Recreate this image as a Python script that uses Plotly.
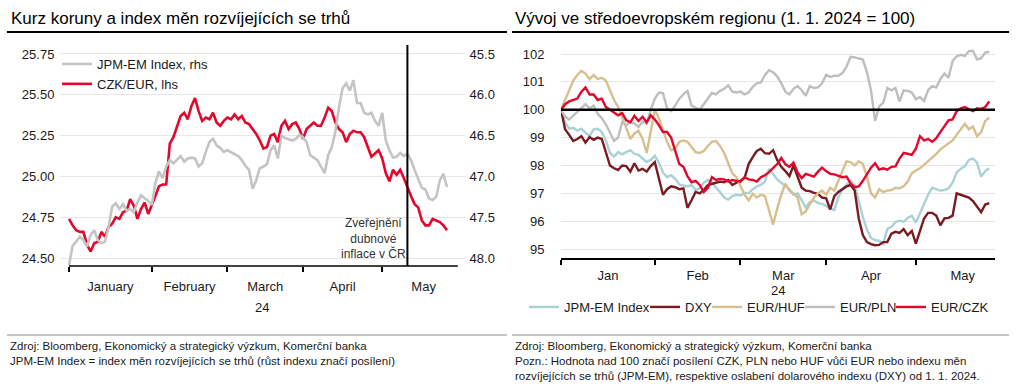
import pandas as pd
import plotly.graph_objects as go

FONT = "Liberation Sans, Arial, Helvetica, sans-serif"
W, H = 1024, 389


def px(x):
    return x / W


def py(y):
    return 1 - y / H


# ---------------- data ----------------
dates = pd.bdate_range("2024-01-01", "2024-05-27")  # business days

czk_eur = [
    24.74, 24.70, 24.67, 24.66, 24.66, 24.58, 24.54, 24.59, 24.60, 24.66,
    24.63, 24.69, 24.71, 24.75, 24.74, 24.78, 24.79, 24.86, 24.82, 24.74,
    24.80, 24.84, 24.77, 24.82, 24.88, 24.94, 24.95, 24.95, 25.20, 25.24,
    25.30, 25.37, 25.39, 25.35, 25.43, 25.48, 25.40, 25.34, 25.36, 25.35,
    25.39, 25.33, 25.31, 25.34, 25.36, 25.35, 25.38, 25.35, 25.37, 25.33,
    25.32, 25.29, 25.26, 25.22, 25.17, 25.18, 25.25, 25.26, 25.21, 25.31,
    25.34, 25.29, 25.32, 25.33, 25.29, 25.23, 25.29, 25.31, 25.33, 25.31,
    25.31, 25.36, 25.42, 25.40, 25.33, 25.29, 25.27, 25.21, 25.26, 25.28,
    25.27, 25.27, 25.24, 25.18, 25.12, 25.14, 25.16, 25.11, 25.02, 24.97,
    25.04, 25.01, 25.04, 24.99, 24.93, 24.88, 24.83, 24.81, 24.73, 24.70,
    24.70, 24.74, 24.73, 24.72, 24.70, 24.67,
]

jpm_em_rhs = [
    48.09, 47.85, 47.80, 47.74, 47.78, 47.86, 47.72, 47.66, 47.78, 47.82,
    47.80, 47.62, 47.37, 47.33, 47.40, 47.34, 47.42, 47.40, 47.44, 47.32,
    47.23, 47.26, 47.30, 47.35, 47.08, 46.94, 47.02, 46.88, 46.80, 46.84,
    46.80, 46.75, 46.82, 46.78, 46.77, 46.78, 46.88, 46.84, 46.70, 46.58,
    46.54, 46.62, 46.65, 46.70, 46.68, 46.70, 46.72, 46.75, 46.80, 46.87,
    46.92, 47.15, 47.05, 46.90, 46.88, 46.85, 46.68, 46.62, 46.78, 46.50,
    46.53, 46.55, 46.56, 46.54, 46.49, 46.52, 46.58, 46.74, 46.77, 46.80,
    46.88, 46.96, 46.74, 46.64, 46.45, 46.15, 45.92, 45.86, 45.95, 45.82,
    46.10, 46.10, 46.22, 46.24, 46.22, 46.32, 46.38, 46.22, 46.56, 46.68,
    46.77, 46.76, 46.71, 46.75, 46.72, 46.80, 46.92, 47.04, 47.14, 47.16,
    47.27, 47.29, 47.25, 47.05, 46.97, 47.13,
]

jpm_em_idx = [
    100.00, 99.55, 99.32, 99.35, 99.25, 99.32, 99.18, 99.05, 99.30, 99.32,
    99.20, 98.90, 98.45, 98.32, 98.48, 98.40, 98.48, 98.55, 98.42, 98.38,
    98.25, 98.12, 98.20, 98.35, 98.10, 97.75, 97.58, 97.65, 97.52, 97.32,
    97.28, 97.25, 97.30, 97.12, 97.18, 97.38, 97.48, 97.40, 97.20, 97.05,
    96.85, 96.78, 96.90, 96.95, 96.92, 97.02, 97.00, 97.15, 97.25, 97.30,
    97.42, 97.88, 97.70, 97.50, 97.38, 97.25, 97.15, 96.95, 97.00, 96.75,
    96.50, 96.68, 96.75, 96.65, 96.62, 96.55, 96.45, 96.40, 96.85, 97.15,
    97.30, 97.45, 97.30, 96.70, 96.15, 95.70, 95.40, 95.32, 95.30, 95.18,
    95.72, 95.80, 95.97, 96.02, 95.98, 96.12, 96.20, 95.95, 96.28, 96.60,
    96.95, 97.20, 97.15, 97.10, 97.12, 97.18, 97.38, 97.75, 97.88, 97.98,
    98.20, 98.25, 98.10, 97.60, 97.80, 97.90,
]

dxy = [
    100.00, 99.30, 99.10, 98.88, 98.95, 99.05, 98.82, 99.02, 98.92, 99.00,
    98.95, 98.45, 98.00, 97.90, 97.84, 98.00, 97.98, 97.78, 98.08, 97.82,
    97.88, 97.78, 97.98, 98.12, 97.50, 96.95, 97.15, 97.25, 97.22, 97.15,
    97.18, 96.48, 96.75, 97.05, 97.00, 97.12, 97.30, 97.35, 97.38, 97.42,
    97.40, 97.48, 97.30, 97.38, 97.45, 97.55, 98.05, 98.30, 98.52, 98.60,
    98.44, 98.42, 98.55, 98.20, 97.95, 97.80, 97.62, 98.00, 97.60, 97.20,
    97.10, 97.08, 97.02, 96.98, 96.85, 96.82, 96.42, 96.90, 97.05, 97.15,
    97.25, 97.30, 97.10, 96.10, 95.50, 95.25, 95.18, 95.14, 95.15, 95.25,
    95.25, 95.55, 95.62, 95.58, 95.72, 95.50, 95.65, 95.20, 95.65, 96.10,
    96.30, 96.30, 96.20, 95.85, 96.10, 96.12, 96.20, 97.00, 96.95, 96.90,
    96.85, 96.72, 96.50, 96.32, 96.60, 96.65,
]

eur_huf = [
    100.00, 100.35, 100.70, 101.05, 101.25, 101.40, 101.30, 101.10, 101.25, 101.10,
    101.15, 101.05, 100.70, 100.35, 100.10, 99.75, 99.35, 98.95, 99.15, 99.25,
    98.95, 98.45, 99.20, 100.00, 99.70, 99.25, 98.85, 98.55, 98.60, 98.85,
    98.90, 98.85, 98.65, 98.48, 98.45, 98.52, 98.70, 98.85, 98.88, 98.70,
    98.45, 98.10, 97.72, 97.58, 97.25, 96.95, 96.75, 96.98, 96.85, 96.95,
    96.90, 96.40, 95.88, 96.45, 96.95, 97.35, 97.10, 97.00, 96.85, 96.25,
    96.35, 96.60, 96.85, 97.00, 97.10, 96.95, 97.20, 97.10, 97.45, 97.75,
    98.15, 98.12, 98.00, 98.15, 98.05, 97.60, 97.00, 96.85, 97.15, 97.05,
    97.10, 97.12, 97.20, 97.18, 97.25, 97.42, 97.72, 97.82, 97.90, 98.02,
    98.15, 98.30, 98.42, 98.58, 98.68, 98.80, 98.90, 99.10, 99.30, 99.50,
    99.30, 99.40, 99.05, 99.20, 99.60, 99.72,
]

eur_pln = [
    100.00, 99.75, 99.65, 99.80, 99.92, 100.06, 100.20, 100.05, 100.15, 99.85,
    99.70, 99.48, 99.15, 98.88, 99.00, 99.55, 99.45, 99.55, 99.50, 99.38,
    99.58, 99.50, 100.00, 100.40, 100.62, 100.60, 100.05, 99.95, 100.15, 100.40,
    100.55, 100.68, 100.15, 100.06, 100.00, 100.20, 100.42, 100.60, 100.55, 100.68,
    100.75, 100.88, 100.65, 100.62, 100.65, 100.55, 100.62, 100.82, 100.95, 100.98,
    101.25, 101.42, 101.35, 101.20, 100.95, 100.65, 100.55, 100.75, 100.85, 100.70,
    100.50, 100.85, 100.78, 100.80, 100.95, 101.25, 101.18, 101.22, 101.22, 101.32,
    101.55, 101.90, 101.88, 101.84, 101.80, 101.35, 100.70, 99.60, 100.12, 100.25,
    100.78, 100.70, 100.78, 100.30, 100.70, 100.68, 100.62, 100.38, 100.45, 100.32,
    100.70, 100.85, 100.80, 101.10, 101.30, 101.15, 101.75, 101.92, 101.97, 101.93,
    102.10, 102.12, 101.80, 101.85, 102.05, 102.08,
]

eur_czk = [
    100.00, 100.20, 100.30, 100.35, 100.40, 100.65, 100.80, 100.55, 100.55, 100.35,
    100.40, 100.10, 100.00, 99.92, 99.80, 99.88, 99.62, 99.55, 99.78, 99.60,
    99.75, 99.55, 99.80, 99.65, 99.45, 99.20, 99.20, 99.00, 98.50, 98.05,
    97.95, 97.62, 97.40, 97.45, 97.30, 97.05, 97.20, 97.58, 97.48, 97.52,
    97.50, 97.42, 97.48, 97.45, 97.42, 97.58, 97.50, 97.48, 97.42, 97.58,
    97.65, 97.76, 97.92, 98.05, 98.27, 98.05, 97.95, 98.10, 97.75, 97.55,
    97.70, 97.65, 97.60, 97.78, 97.92, 97.80, 97.70, 97.68, 97.62, 97.58,
    97.60, 97.35, 97.22, 97.25, 97.45, 97.68, 97.92, 98.08, 97.85, 97.90,
    97.85, 97.95, 97.97, 98.25, 98.45, 98.42, 98.38, 98.60, 99.05, 98.90,
    98.95, 98.85, 98.98, 99.20, 99.40, 99.62, 99.65, 99.95, 100.05, 100.10,
    100.02, 99.95, 100.05, 100.03, 100.10, 100.30,
]

month_starts = ["2024-01-01", "2024-02-01", "2024-03-01", "2024-04-01", "2024-05-01"]
month_mids = ["2024-01-16 12:00", "2024-02-15 12:00", "2024-03-15 12:00",
              "2024-04-16 00:00", "2024-05-16 12:00"]
months_long = ["January", "February", "March", "April", "May"]
months_short = ["Jan", "Feb", "Mar", "Apr", "May"]
year_label = "24"
left_ticks = [24.50, 24.75, 25.00, 25.25, 25.50, 25.75]
right_ticks_left_chart = [45.5, 46.0, 46.5, 47.0, 47.5, 48.0]
right_chart_ticks = [95, 96, 97, 98, 99, 100, 101, 102]
cpi_release = "2024-05-10"

RED = "#e3062d"
GRAY_L = "#c4c4c4"
BLUE = "#a9d2d8"
MAROON = "#7a1b22"
TAN = "#d7bf8e"
GRAY_R = "#bfbebe"
TXT = "#1a1a1a"
GRID = "#e6e6e6"

fig = go.Figure()

# left chart
fig.add_trace(go.Scatter(x=dates, y=jpm_em_rhs, name="JPM-EM Index, rhs", xaxis="x", yaxis="y2",
                         mode="lines", line=dict(color=GRAY_L, width=2.6), legend="legend"))
fig.add_trace(go.Scatter(x=dates, y=czk_eur, name="CZK/EUR, lhs", xaxis="x", yaxis="y",
                         mode="lines", line=dict(color=RED, width=2.6), legend="legend"))

# right chart (one legend box per entry for exact spacing)
right_series = [("JPM-EM Index", jpm_em_idx, BLUE, "legend2", 524),
                ("DXY", dxy, MAROON, "legend3", 645),
                ("EUR/HUF", eur_huf, TAN, "legend4", 707),
                ("EUR/PLN", eur_pln, GRAY_R, "legend5", 800),
                ("EUR/CZK", eur_czk, RED, "legend6", 891)]
for name, vals, col, lg, _ in right_series:
    fig.add_trace(go.Scatter(x=dates, y=vals, name=name, xaxis="x2", yaxis="y3",
                             mode="lines", line=dict(color=col, width=2.4), legend=lg))

rb = [dict(bounds=["sat", "mon"])]
tickfont = dict(family=FONT, size=13, color=TXT)
legfont = dict(family=FONT, size=13, color=TXT)

layout_legends = {}
for name, vals, col, lg, lx in right_series:
    layout_legends[lg] = dict(x=px(lx), y=py(307), xanchor="left", yanchor="middle",
                              orientation="h", bgcolor="rgba(0,0,0,0)", font=legfont,
                              itemwidth=30)

fig.update_layout(
    width=W, height=H, margin=dict(l=0, r=0, t=0, b=0),
    paper_bgcolor="white", plot_bgcolor="white",
    font=dict(family=FONT, size=13, color=TXT),
    showlegend=True,
    xaxis=dict(domain=[px(60), px(465)], type="date", rangebreaks=rb,
               range=["2023-12-27 12:00", "2024-05-31 23:59"],
               tickmode="array", tickvals=month_mids, ticktext=months_long,
               ticks="outside", ticklen=8, tickcolor="rgba(0,0,0,0)",
               showgrid=False, showline=False, zeroline=False, anchor="y",
               tickfont=tickfont,
               minor=dict(tickmode="array", tickvals=month_starts, ticks="outside",
                          ticklen=5, tickwidth=1.6, tickcolor="black", showgrid=False)),
    yaxis=dict(domain=[py(266), py(45)], range=[24.451, 25.805],
               tickmode="array", tickvals=left_ticks, tickformat=".2f",
               showgrid=True, gridcolor=GRID, gridwidth=1, zeroline=False,
               ticks="outside", ticklen=2, tickcolor="rgba(0,0,0,0)", anchor="x",
               tickfont=tickfont),
    yaxis2=dict(overlaying="y", side="right", anchor="x", range=[48.098, 45.39],
                tickmode="array", tickvals=right_ticks_left_chart, tickformat=".1f",
                showgrid=False, zeroline=False,
                ticks="outside", ticklen=1, tickcolor="rgba(0,0,0,0)", tickfont=tickfont),
    xaxis2=dict(domain=[px(561), px(995)], type="date", rangebreaks=rb,
                range=["2024-01-01", "2024-05-28 09:36"],
                tickmode="array", tickvals=month_mids, ticktext=months_short,
                ticks="outside", ticklen=5, tickcolor="rgba(0,0,0,0)",
                showgrid=False, showline=True, linecolor="black", linewidth=1.5,
                zeroline=False, anchor="y3", tickfont=tickfont,
                minor=dict(tickmode="array", tickvals=month_starts, ticks="outside",
                           ticklen=5, tickwidth=1.6, tickcolor="black", showgrid=False)),
    yaxis3=dict(domain=[py(258), py(44)], range=[94.68, 102.36],
                tickmode="array", tickvals=right_chart_ticks,
                showgrid=True, gridcolor=GRID, gridwidth=1, zeroline=False,
                ticks="outside", ticklen=13, tickcolor="rgba(0,0,0,0)", anchor="x2",
                tickfont=tickfont),
    legend=dict(x=px(57), y=py(49), xanchor="left", yanchor="top", orientation="v",
                bgcolor="rgba(0,0,0,0)", font=legfont, itemwidth=30, traceorder="normal"),
    **layout_legends,
)

shapes = [
    dict(type="line", xref="paper", yref="paper", x0=px(7), x1=px(507), y0=py(32), y1=py(32),
         line=dict(color="black", width=2)),
    dict(type="line", xref="paper", yref="paper", x0=px(512), x1=px(1009), y0=py(32), y1=py(32),
         line=dict(color="black", width=2)),
    dict(type="line", xref="paper", yref="paper", x0=px(7), x1=px(507), y0=py(335), y1=py(335),
         line=dict(color="#8c8c8c", width=1.2)),
    dict(type="line", xref="paper", yref="paper", x0=px(512), x1=px(1009), y0=py(335), y1=py(335),
         line=dict(color="#8c8c8c", width=1.2)),
    # left x axis line
    dict(type="line", xref="x", yref="paper", x0="2024-01-01", x1="2024-05-30", y0=py(266), y1=py(266),
         line=dict(color="black", width=1.5)),
    # CPI release marker
    dict(type="line", xref="x", yref="paper", x0=cpi_release, x1=cpi_release, y0=py(266), y1=py(45),
         line=dict(color="black", width=2)),
    # 100 reference line
    dict(type="line", xref="x2 domain", yref="y3", x0=0, x1=1, y0=100, y1=100,
         line=dict(color="black", width=2.5)),
]
fig.update_layout(shapes=shapes)

anns = [
    dict(text="Kurz koruny a index měn rozvíjejících se trhů", x=px(9), y=py(18),
         xanchor="left", yanchor="middle", font=dict(size=17, color="black")),
    dict(text="Vývoj ve středoevropském regionu (1. 1. 2024 = 100)", x=px(513), y=py(18),
         xanchor="left", yanchor="middle", font=dict(size=17, color="black")),
    dict(text=year_label, x=px(262), y=py(307), xanchor="center", yanchor="middle",
         font=dict(size=13, color=TXT)),
    dict(text=year_label, x=px(778), y=py(290), xanchor="center", yanchor="middle",
         font=dict(size=13, color=TXT)),
    dict(text="Zveřejnění<br>dubnové<br>inflace v ČR", x=px(373), y=py(238),
         xanchor="center", yanchor="middle", align="center",
         font=dict(size=12, color="#333333")),
    dict(text="Zdroj: Bloomberg, Ekonomický a strategický výzkum, Komerční banka",
         x=px(8), y=py(346), xanchor="left", yanchor="middle", font=dict(size=11.5, color=TXT)),
    dict(text="JPM-EM Index = index měn rozvíjejících se trhů (růst indexu značí posílení)",
         x=px(8), y=py(361), xanchor="left", yanchor="middle", font=dict(size=11.5, color=TXT)),
    dict(text="Zdroj: Bloomberg, Ekonomický a strategický výzkum, Komerční banka",
         x=px(513), y=py(346), xanchor="left", yanchor="middle", font=dict(size=11.5, color=TXT)),
    dict(text="Pozn.: Hodnota nad 100 značí posílení CZK, PLN nebo HUF vůči EUR nebo indexu měn",
         x=px(513), y=py(361), xanchor="left", yanchor="middle", font=dict(size=11.5, color=TXT)),
    dict(text="rozvíjejících se trhů (JPM-EM), respektive oslabení dolarového indexu (DXY) od 1. 1. 2024.",
         x=px(513), y=py(376), xanchor="left", yanchor="middle", font=dict(size=11.5, color=TXT)),
]
for a in anns:
    a.update(xref="paper", yref="paper", showarrow=False)
fig.update_layout(annotations=anns)

fig.write_html("out.html",
               config={"displayModeBar": False},
               post_script="document.body.style.margin='0px';document.body.style.overflow='hidden';")
